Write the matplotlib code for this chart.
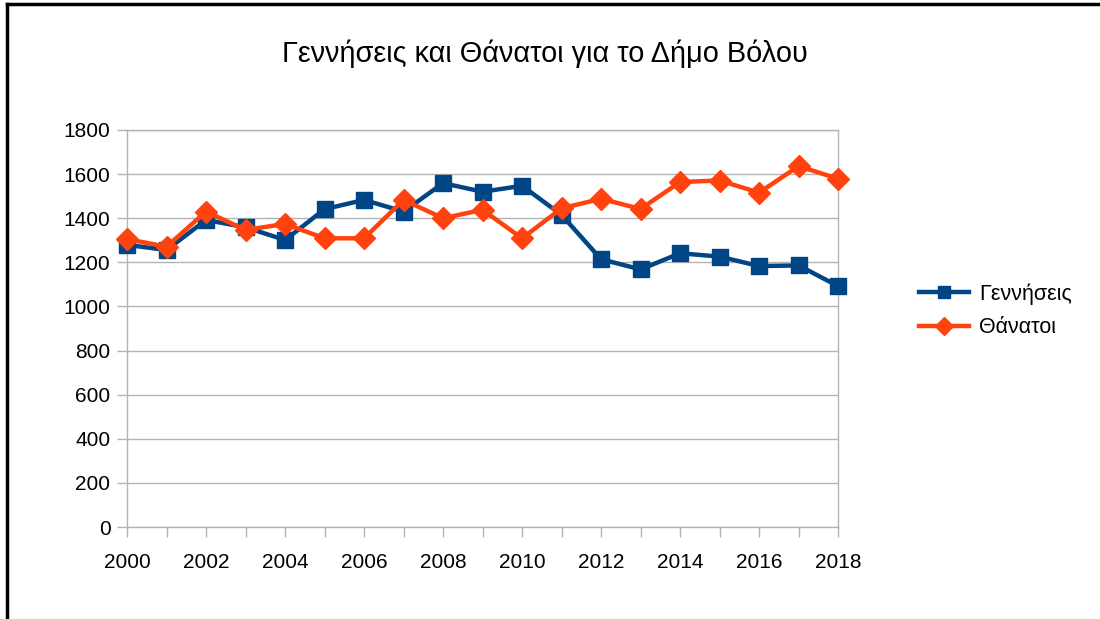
import matplotlib.pyplot as plt
from matplotlib.lines import Line2D

plt.rcParams['font.family'] = ['Liberation Sans', 'DejaVu Sans']

years = list(range(2000, 2019))
births = [1279, 1256, 1392, 1359, 1301, 1441, 1483, 1430, 1559, 1520,
          1547, 1415, 1214, 1168, 1241, 1226, 1183, 1186, 1092]
deaths = [1305, 1271, 1430, 1347, 1374, 1309, 1309, 1483, 1400, 1438,
          1309, 1445, 1488, 1442, 1564, 1571, 1516, 1636, 1579]

blue = '#004586'
orange = '#ff420e'
grid_col = '#b3b3b3'

fig = plt.figure(figsize=(11, 6.19), dpi=100)
ax = fig.add_axes([0.1155, 0.1486, 0.6464, 0.6414])

ax.plot(years, births, color=blue, lw=3.2, marker='s', ms=11, label='Γεννήσεις', zorder=3, clip_on=False)
ax.plot(years, deaths, color=orange, lw=3.2, marker='D', ms=11, label='Θάνατοι', zorder=4, clip_on=False)

ax.set_xlim(2000, 2018)
ax.set_ylim(0, 1800)
ax.set_yticks(range(0, 1801, 200))
ax.set_xticks(range(2000, 2019, 2))
ax.set_xticks(range(2000, 2019), minor=True)
ax.grid(axis='y', color=grid_col, lw=1)
ax.set_axisbelow(True)
for s in ax.spines.values():
    s.set_color(grid_col)
    s.set_linewidth(1)
ax.tick_params(axis='both', which='both', color=grid_col, length=7, width=1, labelsize=15)
ax.tick_params(axis='y', pad=5)
ax.tick_params(axis='x', pad=12)

fig.text(0.495, 0.913, 'Γεννήσεις και Θάνατοι για το Δήμο Βόλου', ha='center', va='center', fontsize=20.8)

leg = fig.legend(handles=[
    Line2D([], [], color=blue, lw=3.2, marker='s', ms=9, label='Γεννήσεις'),
    Line2D([], [], color=orange, lw=3.2, marker='D', ms=9, label='Θάνατοι')],
    loc='center left', bbox_to_anchor=(0.818, 0.498), frameon=False, fontsize=15.5,
    handlelength=2.3, handletextpad=0.5, labelspacing=0.6)

# outer frame (top and left edges visible)
fig.add_artist(Line2D([0.0065, 1.0], [0.993, 0.993], color='black', lw=2.5, transform=fig.transFigure))
fig.add_artist(Line2D([0.0065, 0.0065], [0.0, 0.993], color='black', lw=2.5, transform=fig.transFigure))

fig.savefig('out.png', dpi=100)
